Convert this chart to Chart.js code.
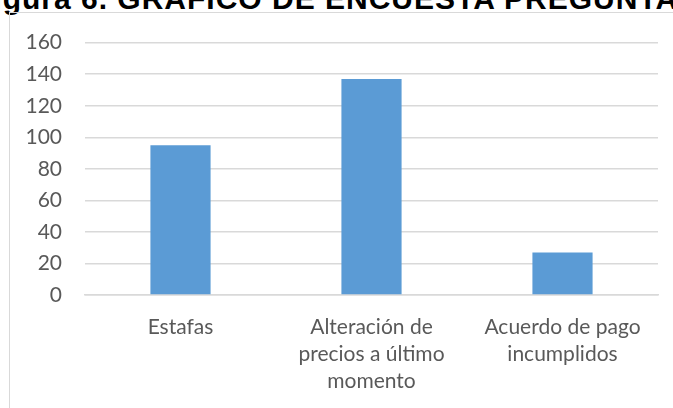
<!DOCTYPE html>
<html>
<head>
<meta charset="utf-8">
<script src="https://cdn.jsdelivr.net/npm/chart.js@4"></script>
<style>
  html, body { margin: 0; padding: 0; background: #fff; overflow: hidden; }
  body { width: 673px; height: 408px; position: relative; }
  .caption {
    position: absolute; left: -26px; top: -18px;
    font-family: "Liberation Sans", Arial, sans-serif; font-size: 30px;
    font-weight: bold; letter-spacing: 1px; color: #000; white-space: nowrap;
  }
  .frame {
    position: absolute; left: 9px; top: 12px; width: 700px; height: 420px;
    border: 1px solid #d9d9d9; box-sizing: border-box;
  }
  .frame canvas { position: absolute; left: 0; top: -7px; }
</style>
</head>
<body>
<div class="caption">Figura 6. GRÁFICO DE ENCUESTA PREGUNTA</div>
<div class="frame"><canvas id="chart" width="698" height="418"></canvas></div>
<script>
// === Data ===
const categories = [
  ["Estafas"],
  ["Alteración de", "precios a último", "momento"],
  ["Acuerdo de pago", "incumplidos"]
];
const values = [95, 137, 27];
const yTicks = [0, 20, 40, 60, 80, 100, 120, 140, 160];

const labelFont = { family: "Lato", size: 21, lineHeight: 1.3 };

// === Chart ===
const ctx = document.getElementById("chart").getContext("2d");
new Chart(ctx, {
  type: "bar",
  data: {
    labels: categories,
    datasets: [{
      data: values,
      backgroundColor: "#5b9bd5",
      barPercentage: 0.315,
      categoryPercentage: 1
    }]
  },
  options: {
    responsive: false,
    animation: false,
    layout: { padding: { left: 0, right: 50, top: 6, bottom: 19 } },
    plugins: { legend: { display: false }, tooltip: { enabled: false } },
    scales: {
      x: {
        grid: { display: false },
        border: { color: "#d9d9d9", width: 1.5 },
        ticks: {
          color: "#595959",
          font: labelFont,
          maxRotation: 0,
          padding: 10
        }
      },
      y: {
        min: 0,
        max: 160,
        afterBuildTicks: axis => { axis.ticks = yTicks.map(v => ({ value: v })); },
        afterFit: axis => { axis.width = 75; },
        grid: { color: "#d9d9d9", lineWidth: 1.5, drawTicks: false },
        border: { display: false },
        ticks: {
          color: "#595959",
          font: labelFont,
          autoSkip: false,
          padding: 23
        }
      }
    }
  }
});
</script>
</body>
</html>
